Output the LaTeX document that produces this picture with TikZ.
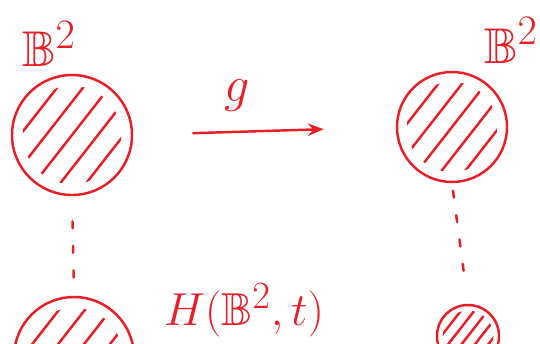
\documentclass[tikz,border=0pt]{standalone}
\usepackage{amsmath,amssymb}
\usepackage{xcolor}
\usetikzlibrary{arrows.meta,positioning}
\definecolor{ink}{RGB}{232,30,38}

\begin{document}
\begin{tikzpicture}[
  color=ink, line width=1.4pt, line cap=round,
  >={Stealth[open,length=9pt,width=7pt]},
  disc/.style={circle, draw, inner sep=0pt, minimum size=#1 cm,
               path picture={
                 \begin{scope}[shift={(path picture bounding box.center)}]
                   \clip (0,0) circle ({0.41*#1});
                   \foreach \k in {-2,...,2}
                     \draw ({-0.134*\k*#1-0.616*#1},{0.105*\k*#1-0.788*#1})
                        -- ({-0.134*\k*#1+0.616*#1},{0.105*\k*#1+0.788*#1});
                 \end{scope}}},
  lab/.style={font=\Huge, scale=1.15, inner sep=1pt},
  dots/.style={dash pattern=on 4pt off 10pt},
  arr/.style={->}
]
\useasboundingbox (0,0) rectangle (10.8,6.86);
\clip (0,0) rectangle (10.8,6.86);

% ---- discs ----
\node[disc=2.4]  (b1) at (1.44,4.16) {};
\node[disc=2.2]  (b2) at (9.04,4.32) {};
\node[disc=2.4]  (h1) at (1.48,-0.28) {};
\node[disc=1.24] (h2) at (9.36,0.14) {};

% ---- labels ----
\node[lab] (l1) at (0.98,5.98) {$\mathbb{B}^2$};
\node[lab] (l2) at (10.22,6.05) {$\mathbb{B}^2$};
\node[lab] (lg) at (4.74,4.95)  {$g$};
\node[lab, scale=0.92] (lh) at (4.88,0.66) {$H(\mathbb{B}^2, t)$};

% ---- map and homotopy ----
\draw[arr, shorten <=1.2cm, shorten >=1.44cm] (b1.east) -- (b2.west);
\draw[dots, shorten <=0.5cm, shorten >=0.14cm] (b1.south) -- (h1.north);
\draw[dots, shorten <=0.15cm, shorten >=0.5cm] (b2.south) -- (h2.north);
\end{tikzpicture}
\end{document}
